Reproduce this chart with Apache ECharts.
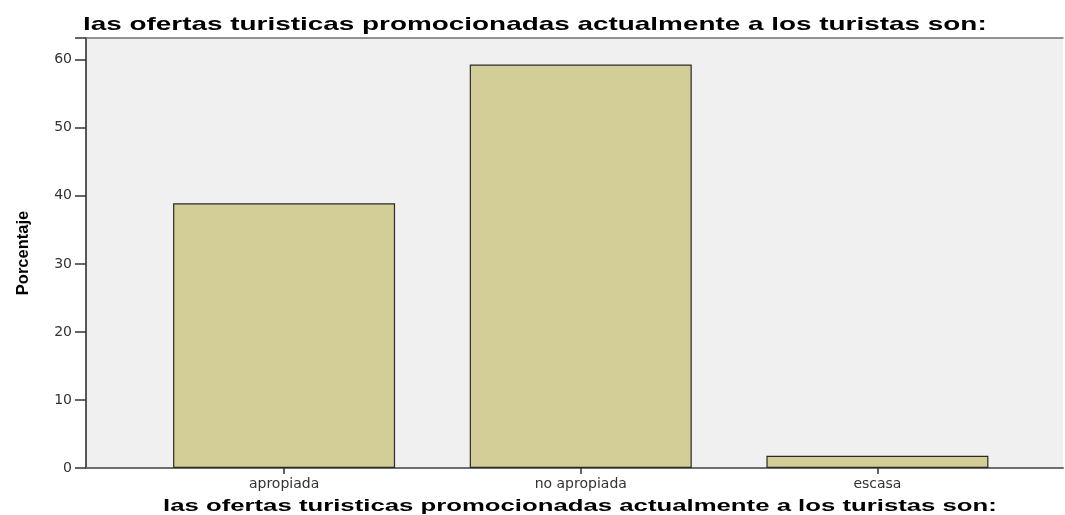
<!DOCTYPE html>
<html>
<head>
<meta charset="utf-8">
<script src="https://cdn.jsdelivr.net/npm/echarts@6/dist/echarts.min.js"></script>
<style>
html,body{margin:0;padding:0;background:#fff;}
#chart{width:1065px;height:515px;}
</style>
</head>
<body>
<div id="chart"></div>
<script>
var titleText = 'las ofertas turisticas promocionadas actualmente a los turistas son:';
var yAxisName = 'Porcentaje';
var categories = ['apropiada', 'no apropiada', 'escasa'];
var percentages = [38.9, 59.3, 1.8];
var yTicks = [0, 10, 20, 30, 40, 50, 60];

var chart = echarts.init(document.getElementById('chart'));
var yMax = 63.2;
var option = {
  animation: false,
  backgroundColor: '#ffffff',
  graphic: [
    {
      type: 'text', x: 83, y: 25, scaleX: 1.468, scaleY: 1,
      style: { text: titleText, font: 'bold 19px "Liberation Sans", Arial, sans-serif',
               fill: '#000', textAlign: 'left', textVerticalAlign: 'middle' }
    },
    {
      type: 'text', x: 163, y: 506, scaleX: 1.514, scaleY: 1,
      style: { text: titleText, font: 'bold 17px "Liberation Sans", Arial, sans-serif',
               fill: '#000', textAlign: 'left', textVerticalAlign: 'middle' }
    }
  ],
  grid: [
    { left: 86, right: 2, top: 38, bottom: 47, show: true, backgroundColor: '#f0f0f0', borderWidth: 0 },
    { left: 135.75, right: 39.25, top: 38, bottom: 47 }
  ],
  xAxis: [
    { gridIndex: 0, type: 'value', min: 0, max: 1, position: 'bottom',
      axisLine: { show: true, lineStyle: { color: '#6e6e6e', width: 2 } },
      axisTick: { show: false }, axisLabel: { show: false }, splitLine: { show: false } },
    { gridIndex: 0, type: 'value', min: 0, max: 1, position: 'top',
      axisLine: { show: true, lineStyle: { color: '#707070', width: 1.5 } },
      axisTick: { show: false }, axisLabel: { show: false }, splitLine: { show: false } },
    { gridIndex: 1, type: 'category', data: categories, position: 'bottom',
      axisLine: { show: false },
      axisTick: { show: true, alignWithLabel: true, length: 6, lineStyle: { color: '#333', width: 1.5 } },
      axisLabel: { show: true, margin: 9, fontSize: 14, fontFamily: '"DejaVu Sans", sans-serif', color: '#333' },
      splitLine: { show: false } }
  ],
  yAxis: [
    { gridIndex: 0, type: 'value', min: 0, max: yMax, interval: 10,
      name: yAxisName, nameLocation: 'middle', nameRotate: 90, nameGap: 54,
      nameTextStyle: { fontSize: 16.5, fontWeight: 'bold', fontFamily: '"Liberation Sans", Arial, sans-serif', color: '#000' },
      axisLine: { show: true, lineStyle: { color: '#222', width: 1.5 } },
      axisTick: { show: true, length: 11, lineStyle: { color: '#333', width: 1.5 } },
      axisLabel: { show: true, margin: 14, fontSize: 14, fontFamily: '"DejaVu Sans", sans-serif', color: '#333',
        formatter: function (v) { return yTicks.indexOf(v) >= 0 ? String(v) : ''; } },
      splitLine: { show: false } },
    { gridIndex: 1, type: 'value', min: 0, max: yMax, interval: 10, show: false }
  ],
  series: [
    { type: 'bar', xAxisIndex: 2, yAxisIndex: 1, data: percentages, barWidth: 222,
      itemStyle: { color: '#d3ce97', borderColor: '#2a2a2a', borderWidth: 1.2 } }
  ]
};
chart.setOption(option);
</script>
</body>
</html>
